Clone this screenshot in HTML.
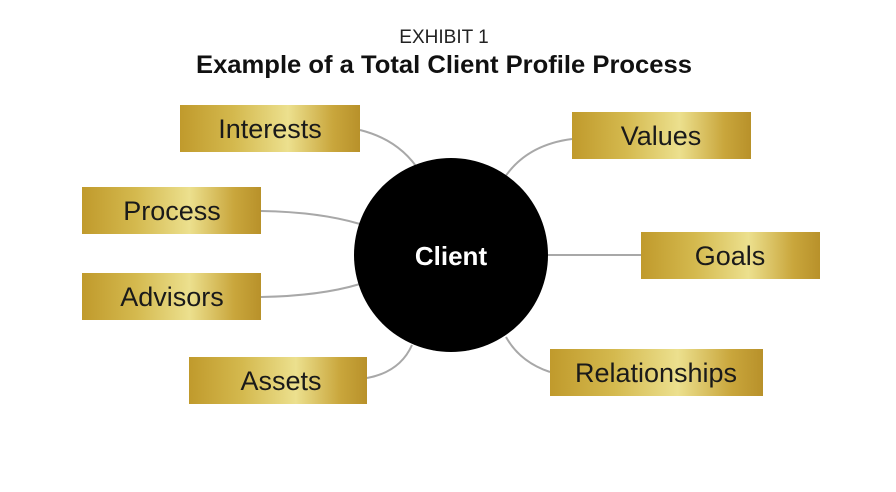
<!DOCTYPE html>
<html><head><meta charset="utf-8"><style>
html,body{margin:0;padding:0;background:#fff;}
svg{display:block;font-family:"Liberation Sans",Arial,sans-serif;}
</style></head><body>
<svg width="896" height="492" viewBox="0 0 896 492">
<defs>
<linearGradient id="gold" x1="0" x2="1" y1="0" y2="0">
<stop offset="0" stop-color="#c09a2c"/>
<stop offset="0.3" stop-color="#d4b94e"/>
<stop offset="0.6" stop-color="#ece08e"/>
<stop offset="0.85" stop-color="#c9a63c"/>
<stop offset="1" stop-color="#b8912a"/>
</linearGradient>
</defs>
<text x="444" y="43" text-anchor="middle" font-size="19" fill="#222">EXHIBIT 1</text>
<text x="444" y="73" text-anchor="middle" font-size="25" font-weight="bold" fill="#111" textLength="496" lengthAdjust="spacingAndGlyphs">Example of a Total Client Profile Process</text>
<g fill="none" stroke="#a8a8a8" stroke-width="2">
<path d="M360,130 Q400,140 420,172"/>
<path d="M572,139 Q525,145 503,180"/>
<path d="M261,211 Q320,212 360,224"/>
<path d="M641,255 L548,255"/>
<path d="M261,297 Q320,296 360,284"/>
<path d="M550,372 Q520,362 506,337"/>
<path d="M367,378 Q400,372 412,345"/>
</g>
<circle cx="451" cy="255" r="97" fill="#000"/>
<text x="451" y="265" text-anchor="middle" font-size="26" font-weight="bold" fill="#fff">Client</text>
<g font-size="27" fill="#1a1a1a" text-anchor="middle">
<g><rect x="180" y="105" width="180" height="47" fill="url(#gold)"/><text x="270" y="138">Interests</text></g>
<g><rect x="572" y="112" width="179" height="47" fill="url(#gold)"/><text x="661" y="145">Values</text></g>
<g><rect x="82" y="187" width="179" height="47" fill="url(#gold)"/><text x="172" y="220">Process</text></g>
<g><rect x="641" y="232" width="179" height="47" fill="url(#gold)"/><text x="730" y="265">Goals</text></g>
<g><rect x="82" y="273" width="179" height="47" fill="url(#gold)"/><text x="172" y="306">Advisors</text></g>
<g><rect x="550" y="349" width="213" height="47" fill="url(#gold)"/><text x="656" y="382">Relationships</text></g>
<g><rect x="189" y="357" width="178" height="47" fill="url(#gold)"/><text x="281" y="390">Assets</text></g>
</g>
</svg>
</body></html>
